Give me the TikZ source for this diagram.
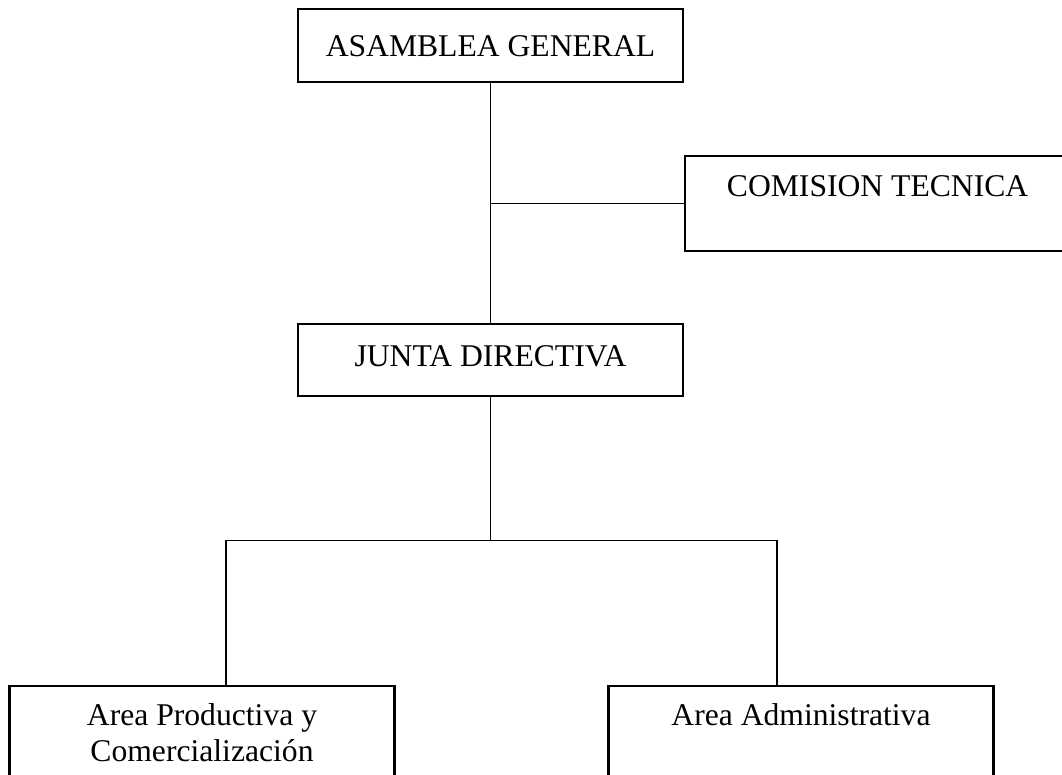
\documentclass[tikz,border=0pt]{standalone}
\usepackage{fontspec}
\setmainfont{Liberation Serif}
\usetikzlibrary{positioning}

\begin{document}
\begin{tikzpicture}[
    node distance=1cm,
    box/.style={draw, rectangle, line width=1.2pt, inner sep=0pt, minimum width=7.7cm, align=center, font=\fontsize{18}{20.5}\selectfont},
    linea/.style={line width=0.8pt}
]
\useasboundingbox (0,0) rectangle (21.24,-15.5);
\clip (0,0) rectangle (21.24,-15.5);

% Cajas
\node[box, anchor=north, text height=0.94cm, text depth=0.52cm] (asamblea) at (9.81,-0.16) {ASAMBLEA GENERAL};
\node[box, below right=1.44cm and 0cm of asamblea.south east, text height=0.8cm, text depth=1.1cm] (comision) {COMISION TECNICA};
\node[box, below=4.8cm of asamblea, text height=0.84cm, text depth=0.6cm] (junta) {JUNTA DIRECTIVA};
\node[box, below=5.76cm of junta, xshift=-5.77cm, text height=1.5cm, text depth=0.5cm] (productiva) {Area Productiva y\\Comercialización};
\node[box, below=5.76cm of junta, xshift=6.21cm, text height=0.78cm, text depth=1.22cm] (administrativa) {Area Administrativa};

% Lineas
\draw[linea] (asamblea) -- (junta);
\draw[linea] (comision.west) -- (comision.west -| asamblea.south);
\draw[linea] (junta.south) -- ++(0,-2.86) coordinate (bus);
\draw[linea] ([xshift=0.48cm]productiva.north) |- (bus) -| ([xshift=-0.48cm]administrativa.north);
\end{tikzpicture}
\end{document}
